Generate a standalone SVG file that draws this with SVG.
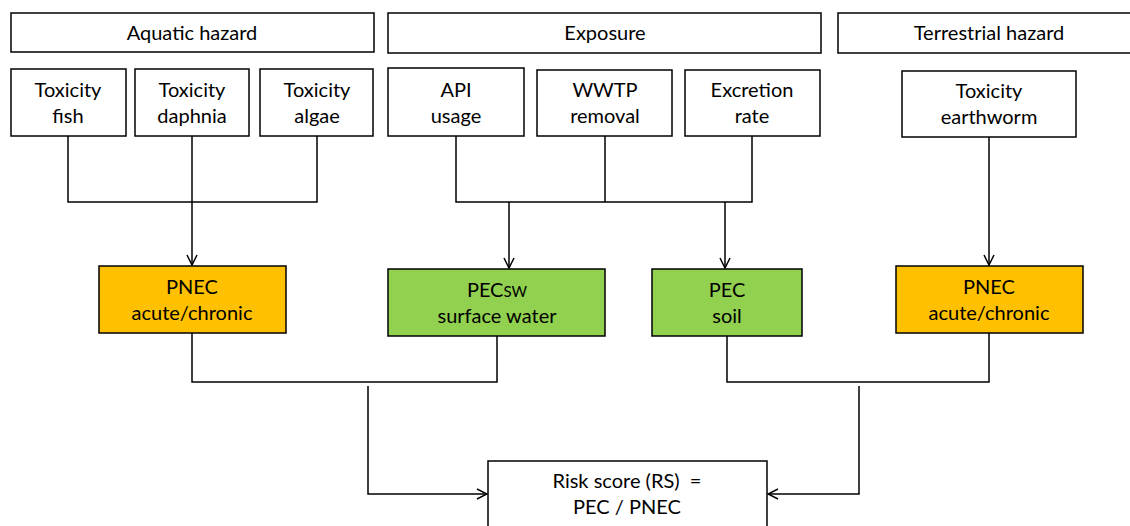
<svg xmlns="http://www.w3.org/2000/svg" width="1130" height="526" viewBox="0 0 1130 526">
<defs>
<marker id="arr" viewBox="0 0 12 12" refX="11" refY="6" markerWidth="12" markerHeight="12" markerUnits="userSpaceOnUse" orient="auto">
<path d="M1,1 L11,6 L1,11" fill="none" stroke="#000" stroke-width="1.5"/>
</marker>
</defs>
<style>
.b{fill:#fff;stroke:#000;stroke-width:1.5}
.o{fill:#FFC000;stroke:#000;stroke-width:1.5}
.g{fill:#92D050;stroke:#000;stroke-width:1.5}
text{font-family:Lato,"Open Sans",sans-serif;font-size:20px;fill:#000;text-anchor:middle}
.c{fill:none;stroke:#000;stroke-width:1.5}
</style>
<rect width="1130" height="526" fill="#fff"/>
<g id="connectors">
<path class="c" d="M68,136 V202 H317 V136"/>
<path class="c" d="M192,136 V265" marker-end="url(#arr)"/>
<path class="c" d="M456,136 V202 H752 V136"/>
<path class="c" d="M605,136 V202"/>
<path class="c" d="M509,202 V268" marker-end="url(#arr)"/>
<path class="c" d="M725,202 V268" marker-end="url(#arr)"/>
<path class="c" d="M989,137 V265" marker-end="url(#arr)"/>
<path class="c" d="M192,333 V382 H497 V336"/>
<path class="c" d="M727,336 V382 H989 V333"/>
<path class="c" d="M368,386 V494 H487" marker-end="url(#arr)"/>
<path class="c" d="M859,386 V494 H768" marker-end="url(#arr)"/>
</g>
<g id="aquatic-hazard"><rect class="b" x="11" y="13" width="363" height="39"/><text x="192" y="40">Aquatic hazard</text></g>
<g id="exposure"><rect class="b" x="388" y="13" width="433" height="40"/><text x="605" y="40">Exposure</text></g>
<g id="terrestrial-hazard"><rect class="b" x="838" y="13" width="300" height="40"/><text x="989" y="40">Terrestrial hazard</text></g>
<g id="tox-fish"><rect class="b" x="11" y="69" width="115" height="67"/><text x="68" y="97">Toxicity</text><text x="68" y="123">fish</text></g>
<g id="tox-daphnia"><rect class="b" x="135" y="69" width="114" height="67"/><text x="192" y="97">Toxicity</text><text x="192" y="123">daphnia</text></g>
<g id="tox-algae"><rect class="b" x="260" y="69" width="113" height="67"/><text x="317" y="97">Toxicity</text><text x="317" y="123">algae</text></g>
<g id="api-usage"><rect class="b" x="388" y="68" width="136" height="68"/><text x="456" y="97">API</text><text x="456" y="123">usage</text></g>
<g id="wwtp-removal"><rect class="b" x="537" y="70" width="135" height="66"/><text x="605" y="97">WWTP</text><text x="605" y="123">removal</text></g>
<g id="excretion-rate"><rect class="b" x="685" y="70" width="135" height="66"/><text x="752" y="97">Excretion</text><text x="752" y="123">rate</text></g>
<g id="tox-earthworm"><rect class="b" x="902" y="71" width="174" height="66"/><text x="989" y="98">Toxicity</text><text x="989" y="124">earthworm</text></g>
<g id="pnec-aquatic"><rect class="o" x="99" y="266" width="187" height="67"/><text x="192" y="294">PNEC</text><text x="192" y="320">acute/chronic</text></g>
<g id="pec-sw"><rect class="g" x="388" y="269" width="217" height="67"/><text x="497" y="297">PEC<tspan font-size="15">SW</tspan></text><text x="497" y="323">surface water</text></g>
<g id="pec-soil"><rect class="g" x="652" y="269" width="150" height="67"/><text x="727" y="297">PEC</text><text x="727" y="323">soil</text></g>
<g id="pnec-terrestrial"><rect class="o" x="896" y="266" width="187" height="67"/><text x="989" y="294">PNEC</text><text x="989" y="320">acute/chronic</text></g>
<g id="risk-score"><rect class="b" x="488" y="461" width="279" height="80"/><text x="627" y="488" xml:space="preserve">Risk score (RS)  =</text><text x="627" y="514">PEC / PNEC</text></g>
</svg>
